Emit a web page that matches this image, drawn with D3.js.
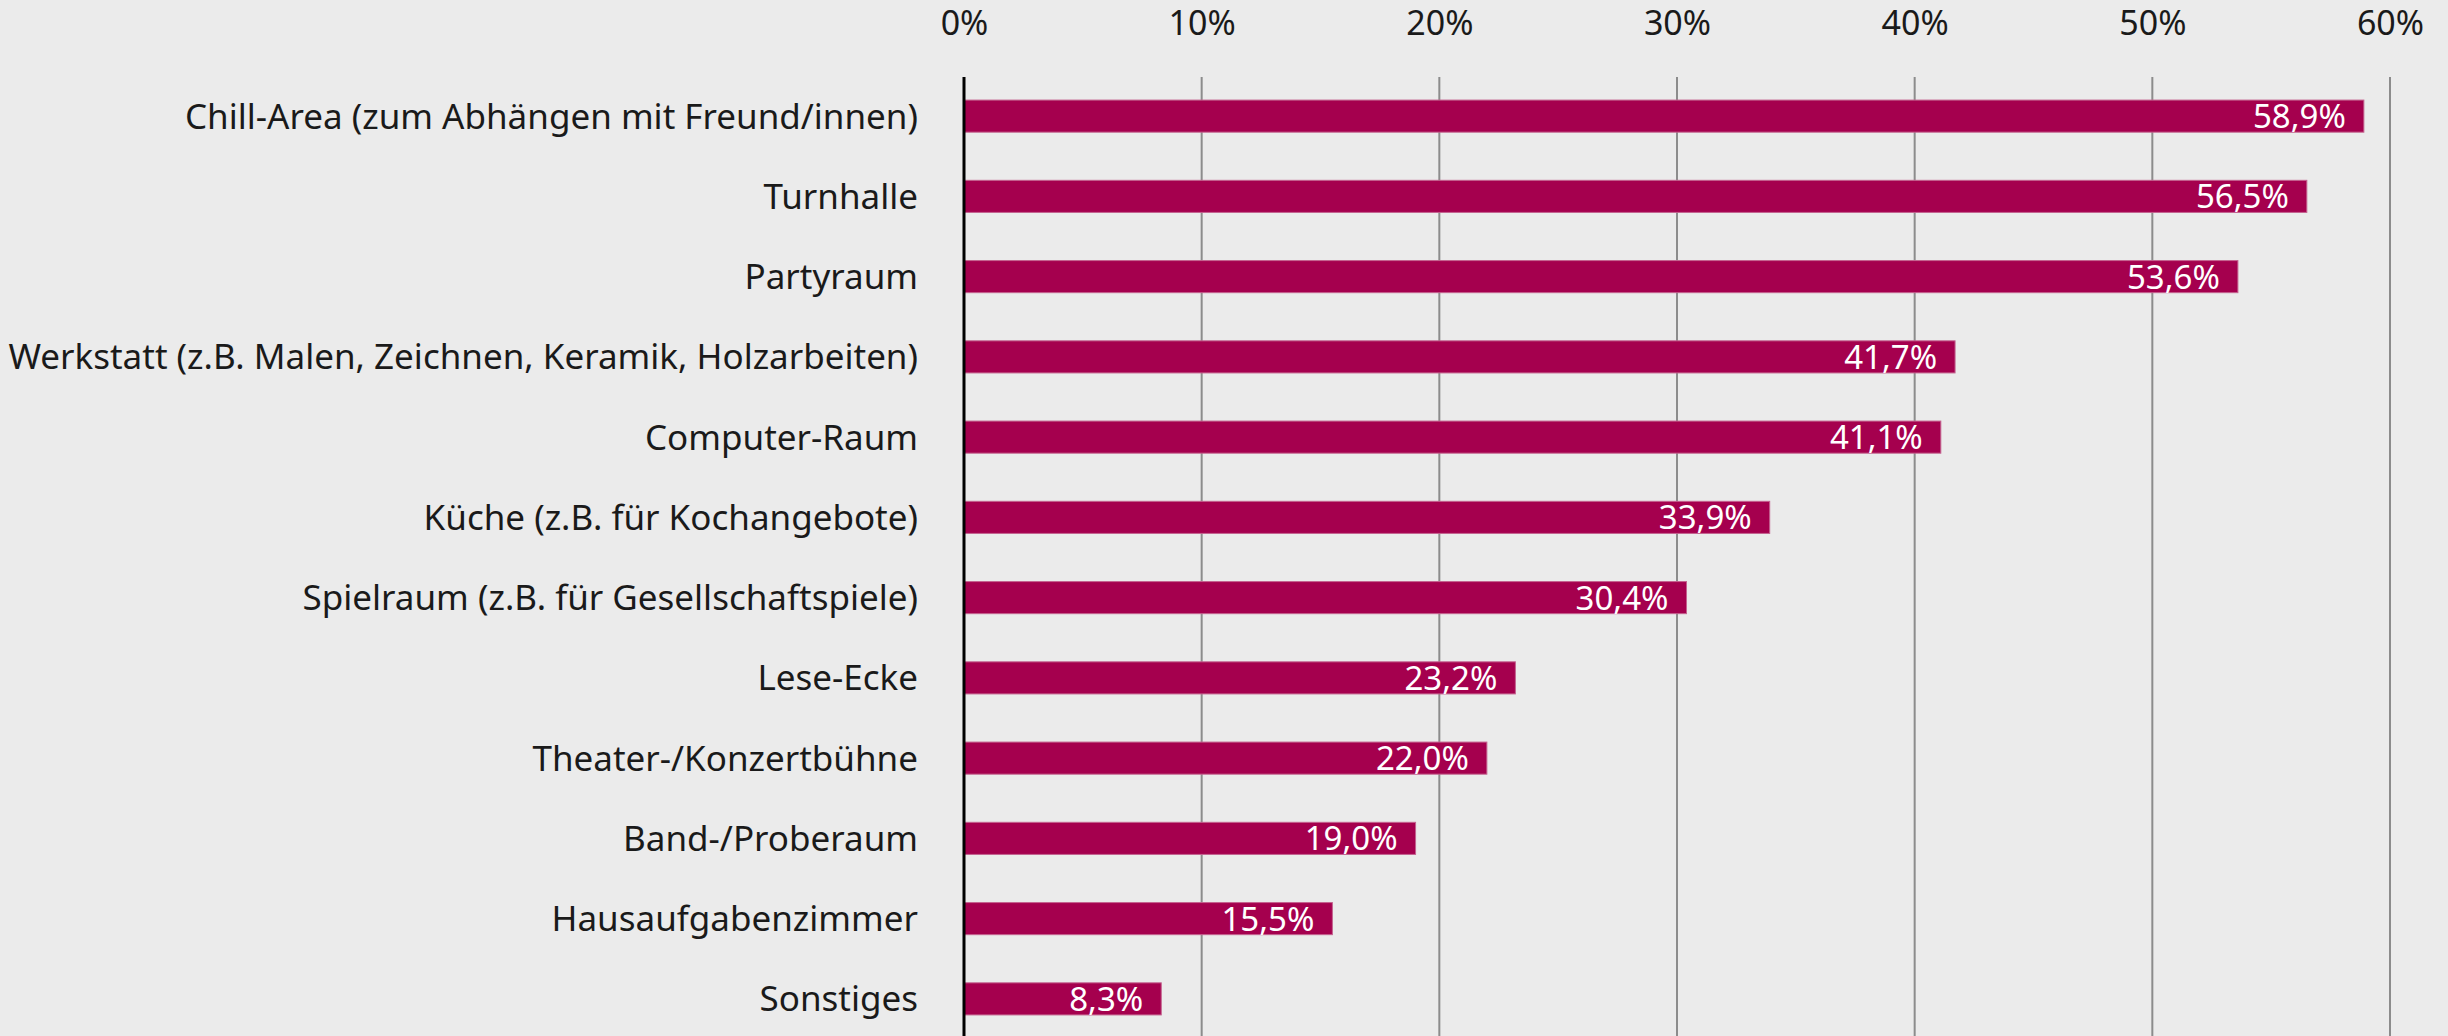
<!DOCTYPE html>
<html lang="de">
<head>
    <meta charset="utf-8">
    <title>Gewünschte Räume</title>
    <style>
        html,body{
            margin:0;
            background:#ebebeb;
            overflow:hidden;
            font-family:"Noto Sans",sans-serif;
        }
        .cat{ fill:#1a1a1a; }
        .tick text{ fill:#1a1a1a; }
    </style>
</head>
<body>
    <div id="chart"></div>
    <script src="https://cdn.jsdelivr.net/npm/d3@7"></script>
    <script>
    // Daten
    const categories = [
        "Chill-Area (zum Abhängen mit Freund/innen)",
        "Turnhalle",
        "Partyraum",
        "Werkstatt (z.B. Malen, Zeichnen, Keramik, Holzarbeiten)",
        "Computer-Raum",
        "Küche (z.B. für Kochangebote)",
        "Spielraum (z.B. für Gesellschaftspiele)",
        "Lese-Ecke",
        "Theater-/Konzertbühne",
        "Band-/Proberaum",
        "Hausaufgabenzimmer",
        "Sonstiges"
    ];
    const values = [58.9, 56.5, 53.6, 41.7, 41.1, 33.9, 30.4, 23.2, 22.0, 19.0, 15.5, 8.3];
    const xTicks = [0, 10, 20, 30, 40, 50, 60];

    const width = 2448, height = 1036;
    const x0 = 964, x60 = 2390;
    const yTop = 76, yBottom = 1039;

    const svg = d3.select("#chart").append("svg")
        .attr("width", width)
        .attr("height", height);

    const x = d3.scaleLinear().domain([0, 60]).range([x0, x60]);
    const y = d3.scaleBand().domain(categories).range([yTop, yBottom])
        .paddingInner(0.6).paddingOuter(0.3);

    // Gitterlinien
    svg.append("g")
        .selectAll("line")
        .data(xTicks.filter(d => d > 0))
        .enter().append("line")
        .attr("x1", d => x(d)).attr("x2", d => x(d))
        .attr("y1", 77).attr("y2", height)
        .attr("stroke", "#8c8c8c")
        .attr("stroke-width", 2);

    // Achse oben (nur Beschriftung)
    const axis = svg.append("g")
        .attr("transform", "translate(0,35)")
        .call(d3.axisTop(x).tickValues(xTicks).tickSize(0).tickPadding(0)
            .tickFormat(d => d + "%"));
    axis.select(".domain").remove();
    axis.selectAll("text")
        .attr("font-family", "Noto Sans")
        .attr("font-size", 34)
        .attr("dy", 0);

    // Balken
    svg.append("g")
        .selectAll("rect")
        .data(values)
        .enter().append("rect")
        .attr("x", x(0))
        .attr("y", (d, i) => y(categories[i]))
        .attr("width", d => x(d) - x(0))
        .attr("height", y.bandwidth())
        .attr("fill", "#a5004e")
        .attr("stroke", "#c4628f")
        .attr("stroke-width", 1);

    // Werte
    svg.append("g")
        .selectAll("text")
        .data(values)
        .enter().append("text")
        .attr("x", d => x(d) - 18)
        .attr("y", (d, i) => y(categories[i]) + y.bandwidth() / 2)
        .attr("dy", "0.36em")
        .attr("text-anchor", "end")
        .attr("fill", "#ffffff")
        .attr("font-size", 33)
        .text(d => d.toFixed(1).replace(".", ",") + "%");

    // Kategorien
    svg.append("g")
        .selectAll("text")
        .data(categories)
        .enter().append("text")
        .attr("class", "cat")
        .attr("x", 918)
        .attr("y", d => y(d) + y.bandwidth() / 2)
        .attr("dy", "0.36em")
        .attr("text-anchor", "end")
        .attr("font-size", 35)
        .text(d => d);

    // y-Achse
    svg.append("line")
        .attr("x1", x(0)).attr("x2", x(0))
        .attr("y1", 77).attr("y2", height)
        .attr("stroke", "#000")
        .attr("stroke-width", 3);
    </script>
</body>
</html>
